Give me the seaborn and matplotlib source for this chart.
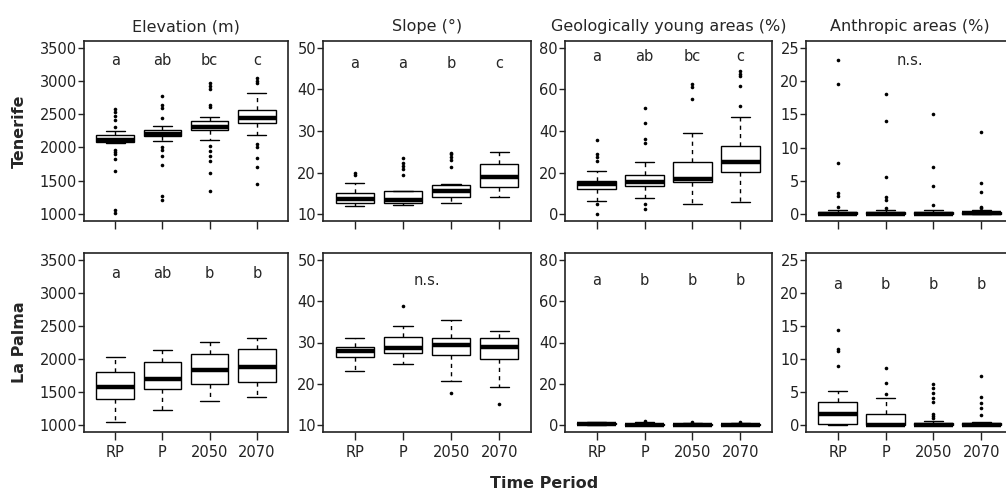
import numpy as np
import pandas as pd
import seaborn as sns
import matplotlib.pyplot as plt

# categories ----------------------------------------------------------------
periods = ["RP", "P", "2050", "2070"]

# box stats per period: [lower whisker, q1, median, q3, upper whisker]
# Tenerife
ten_elev_box = [[2060, 2075, 2115, 2180, 2240], [2095, 2165, 2205, 2265, 2330],
                [2115, 2265, 2315, 2405, 2460], [2190, 2365, 2450, 2560, 2825]]
ten_elev_out = [[2575, 2530, 2475, 2415, 2310, 1955, 1925, 1900, 1825, 1640, 1055, 1015],
                [2780, 2640, 2590, 2440, 2000, 1955, 1875, 1730, 1265, 1205],
                [2965, 2925, 2875, 2635, 2615, 2015, 1940, 1875, 1790, 1610, 1350],
                [3040, 3000, 2965, 2055, 2000, 1840, 1705, 1450]]
ten_slope_box = [[12.0, 12.8, 13.7, 15.2, 17.4], [12.2, 12.6, 13.4, 15.5, 15.7],
                 [12.6, 14.2, 15.7, 17.0, 17.2], [14.2, 16.5, 19.0, 22.1, 25.0]]
ten_slope_out = [[20.0, 19.5], [23.5, 22.4, 21.6, 20.8, 19.5],
                 [24.8, 24.5, 23.8, 23.0, 21.4], []]
ten_geo_box = [[6.6, 12.0, 14.6, 16.0, 21.0], [8.0, 13.6, 15.5, 18.9, 25.1],
               [5.1, 15.5, 17.0, 25.3, 38.9], [5.8, 20.2, 25.3, 32.8, 46.9]]
ten_geo_out = [[35.5, 28.8, 27.4, 25.6, 4.8, 0.2], [51.2, 44.0, 36.3, 34.1, 5.0, 2.4],
               [62.6, 61.3, 55.2], [69.0, 67.4, 66.6, 61.8, 52.2]]
ten_anth_box = [[0, 0, 0.1, 0.3, 0.6], [0, 0, 0.1, 0.3, 0.6],
                [0, 0, 0.1, 0.3, 0.6], [0, 0.05, 0.15, 0.35, 0.7]]
ten_anth_out = [[23.2, 19.5, 7.65, 3.25, 2.8, 1.15], [18.0, 14.05, 5.55, 2.55, 2.1, 0.9],
                [15.05, 7.05, 4.3, 1.35], [12.35, 4.75, 3.35, 1.15, 0.9]]

# La Palma
lp_elev_box = [[1045, 1398, 1573, 1797, 2026], [1234, 1548, 1702, 1946, 2130],
               [1364, 1613, 1832, 2076, 2255], [1418, 1652, 1882, 2150, 2310]]
lp_elev_out = [[], [], [], []]
lp_slope_box = [[23.1, 26.4, 28.0, 28.8, 31.1], [24.7, 27.4, 28.7, 31.3, 33.9],
                [20.8, 27.1, 29.4, 31.0, 35.4], [19.2, 26.0, 28.8, 31.0, 32.7]]
lp_slope_out = [[], [38.7], [17.7], [15.1]]
lp_geo_box = [[0.2, 0.5, 0.9, 1.3, 1.8], [0, 0.1, 0.4, 0.8, 1.5],
              [0, 0.05, 0.2, 0.6, 1.0], [0, 0.05, 0.2, 0.6, 1.0]]
lp_geo_out = [[], [2.2], [1.6], [1.5]]
lp_anth_box = [[0, 0.2, 1.75, 3.6, 5.25], [0, 0, 0.1, 1.7, 4.2],
               [0, 0, 0.1, 0.4, 0.6], [0, 0, 0.1, 0.35, 0.5]]
lp_anth_out = [[14.45, 11.45, 11.2, 9.0], [8.6, 6.35, 4.7],
               [6.25, 5.6, 4.95, 4.1, 3.45, 1.75, 1.35, 1.05],
               [7.45, 4.35, 3.35, 2.6, 1.5]]

# significance letters
ten_elev_letters = ["a", "ab", "bc", "c"]
ten_slope_letters = ["a", "a", "b", "c"]
ten_geo_letters = ["a", "ab", "bc", "c"]
ten_anth_letters = ["n.s."]
lp_elev_letters = ["a", "ab", "b", "b"]
lp_slope_letters = ["n.s."]
lp_geo_letters = ["a", "b", "b", "b"]
lp_anth_letters = ["a", "b", "b", "b"]

col_titles = ["Elevation (m)", "Slope (°)", "Geologically young areas (%)", "Anthropic areas (%)"]
row_titles = ["Tenerife", "La Palma"]

ylims = [(895, 3600), (8.4, 51.6), (-3.2, 83.2), (-1.0, 26.0)]
yticks = [np.arange(1000, 3501, 500), np.arange(10, 51, 10),
          np.arange(0, 81, 20), np.arange(0, 26, 5)]


def long_df(groups):
    rows = []
    for p, vals in zip(periods, groups):
        for v in vals:
            rows.append((p, v))
    return pd.DataFrame(rows, columns=["period", "value"])


sns.set_style("ticks")
plt.rcParams["font.family"] = ["DejaVu Sans"]
plt.rcParams["axes.edgecolor"] = "#222222"

W, H = 1006, 491
fig = plt.figure(figsize=(W / 100, H / 100), dpi=100)

col_px = [(84, 288), (323, 531), (565, 772), (806, 1013)]
row_px = [(41, 221), (253, 432)]

panels = [
    [(ten_elev_box, ten_elev_out, ten_elev_letters, 0.89),
     (ten_slope_box, ten_slope_out, ten_slope_letters, 0.875),
     (ten_geo_box, ten_geo_out, ten_geo_letters, 0.915),
     (ten_anth_box, ten_anth_out, ten_anth_letters, 0.89)],
    [(lp_elev_box, lp_elev_out, lp_elev_letters, 0.885),
     (lp_slope_box, lp_slope_out, lp_slope_letters, 0.845),
     (lp_geo_box, lp_geo_out, lp_geo_letters, 0.845),
     (lp_anth_box, lp_anth_out, lp_anth_letters, 0.825)],
]

for r, (top, bot) in enumerate(row_px):
    for c, (left, right) in enumerate(col_px):
        ax = fig.add_axes([left / W, 1 - bot / H, (right - left) / W, (bot - top) / H])
        box, out, letters, ly = panels[r][c]

        sns.boxplot(data=long_df(box), x="period", y="value", order=periods,
                    whis=(0, 100), showfliers=False, width=0.8,
                    color="white", linecolor="black", linewidth=1,
                    medianprops=dict(linewidth=3.2, color="black"),
                    whiskerprops=dict(linestyle=(0, (3, 3)), linewidth=1),
                    capprops=dict(linewidth=1), ax=ax)
        dfo = long_df(out)
        if len(dfo):
            sns.stripplot(data=dfo, x="period", y="value", order=periods,
                          jitter=False, color="black", size=2.6, ax=ax)

        ax.set_xlim(-0.66, 3.66)
        ax.set_ylim(*ylims[c])
        ax.set_yticks(yticks[c])
        ax.set_xlabel("")
        ax.set_ylabel("")
        for s in ax.spines.values():
            s.set_linewidth(1.2)
            s.set_visible(True)
        ax.tick_params(axis="x", length=6, width=1, labelsize=10.5, colors="#222222")
        ax.tick_params(axis="y", length=4, width=1, labelsize=10.5, pad=1, colors="#222222")
        if r == 0:
            ax.tick_params(labelbottom=False)
            ax.set_title(col_titles[c], fontsize=11.5, pad=7)

        tr = ax.get_xaxis_transform()
        if len(letters) == 1:
            ax.text(1.5, ly, letters[0], transform=tr, ha="center", va="center", fontsize=10.5)
        else:
            for i, lab in enumerate(letters):
                ax.text(i, ly, lab, transform=tr, ha="center", va="center", fontsize=10.5)

fig.text(0.019, 1 - 131 / H, row_titles[0], rotation=90, ha="center", va="center",
         fontsize=11.5, fontweight="bold")
fig.text(0.019, 1 - 342 / H, row_titles[1], rotation=90, ha="center", va="center",
         fontsize=11.5, fontweight="bold")
fig.text(0.541, 1 - 484 / H, "Time Period", ha="center", va="center",
         fontsize=11.5, fontweight="bold")

fig.savefig("out.png", dpi=100)
